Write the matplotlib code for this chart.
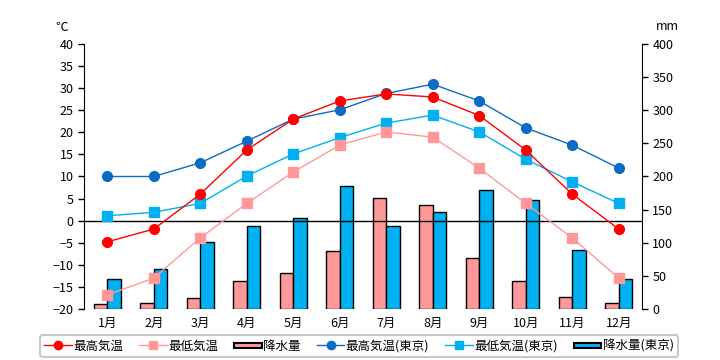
import matplotlib
matplotlib.use("Agg")
import matplotlib.pyplot as plt
import numpy as np
from matplotlib.lines import Line2D
from matplotlib.patches import Patch, Rectangle
from matplotlib.legend_handler import HandlerPatch

plt.rcParams['font.family'] = ['Noto Sans CJK JP', 'DejaVu Sans']

months = ["1月", "2月", "3月", "4月", "5月", "6月", "7月", "8月", "9月", "10月", "11月", "12月"]
max_temp = [-4.8, -1.9, 6.0, 16.0, 23.0, 27.1, 28.7, 28.0, 23.8, 16.0, 6.0, -1.9]
min_temp = [-16.8, -13.0, -3.9, 3.9, 11.0, 17.1, 20.1, 18.9, 11.9, 3.9, -3.9, -13.0]
precip = [7, 9, 16, 43, 55, 88, 167, 157, 77, 42, 18, 9]
tokyo_max = [10.0, 10.0, 13.1, 18.0, 23.0, 25.1, 28.8, 30.9, 27.1, 21.0, 17.1, 11.9]
tokyo_min = [1.1, 1.9, 3.9, 10.1, 15.1, 18.8, 22.1, 23.9, 20.1, 13.9, 8.8, 3.9]
tokyo_precip = [45, 60, 101, 125, 138, 185, 126, 147, 180, 164, 89, 46]

labels = ["最高気温", "最低気温", "降水量", "最高気温(東京)", "最低気温(東京)", "降水量(東京)"]

c_red = "#FF0000"
c_pink = "#FF9999"
c_blue = "#0A6CC4"
c_cyan = "#00B0F0"
bg = "#FFFFCC"

fig = plt.figure(figsize=(7.2, 3.6), dpi=100)
ax1 = fig.add_axes([84/720, 1-309/360, (642-84)/720, (309-44)/360])
ax2 = ax1.twinx()
ax1.set_zorder(ax2.get_zorder() + 1)
ax1.patch.set_visible(False)
ax2.set_facecolor(bg)

x = np.arange(len(months))
w = 0.29
ax2.bar(x - w/2, precip, width=w, color=c_pink, edgecolor="black", linewidth=1)
ax2.bar(x + w/2, tokyo_precip, width=w, color=c_cyan, edgecolor="black", linewidth=1)
ax2.set_ylim(0, 400)
ax2.set_yticks(np.arange(0, 401, 50))

ax1.axhline(0, color="black", linewidth=1, zorder=1)
ax1.plot(x, tokyo_max, color=c_blue, lw=1, marker="o", ms=7, zorder=3)
ax1.plot(x, tokyo_min, color=c_cyan, lw=1, marker="s", ms=7, zorder=3)
ax1.plot(x, max_temp, color=c_red, lw=1, marker="o", ms=7, zorder=4)
ax1.plot(x, min_temp, color=c_pink, lw=1, marker="s", ms=7, zorder=4)
ax1.set_ylim(-20, 40)
ax1.set_yticks(np.arange(-20, 41, 5))
ax1.set_xlim(-0.5, 11.5)
ax1.set_xticks(x)
ax1.set_xticklabels(months)

for ax in (ax1, ax2):
    ax.spines["top"].set_visible(False)
    ax.spines["bottom"].set_visible(False)
    ax.tick_params(axis="x", length=0, pad=6, labelsize=9)
    ax.tick_params(axis="y", length=4, width=1, labelsize=9, direction="out")
ax1.spines["right"].set_visible(False)
ax2.spines["left"].set_visible(False)

fig.text(55/720, 1-27/360, "℃", fontsize=9, ha="left", va="center")
fig.text(656/720, 1-27/360, "mm", fontsize=9, ha="left", va="center")


def thin_rect(legend, orig_handle, xdescent, ydescent, width, height, fontsize):
    return Rectangle((-xdescent, -ydescent + height * 0.22), width, height * 0.56)


handles = [
    Line2D([], [], color=c_red, marker="o", ms=6, lw=1),
    Line2D([], [], color=c_pink, marker="s", ms=6, lw=1),
    Patch(facecolor=c_pink, edgecolor="black", linewidth=1.5),
    Line2D([], [], color=c_blue, marker="o", ms=6, lw=1),
    Line2D([], [], color=c_cyan, marker="s", ms=6, lw=1),
    Patch(facecolor=c_cyan, edgecolor="black", linewidth=1.5),
]
leg = fig.legend(handles, labels, ncol=6, loc="center", bbox_to_anchor=(359/720, 1-346/360),
                 fontsize=9, frameon=True, fancybox=True, edgecolor="#BBBBBB",
                 handlelength=2.2, handletextpad=0.1, columnspacing=1.3, borderpad=0.35,
                 handler_map={Patch: HandlerPatch(patch_func=thin_rect)})
leg.get_frame().set_linewidth(1.5)

fig.savefig("out.png", dpi=100)
